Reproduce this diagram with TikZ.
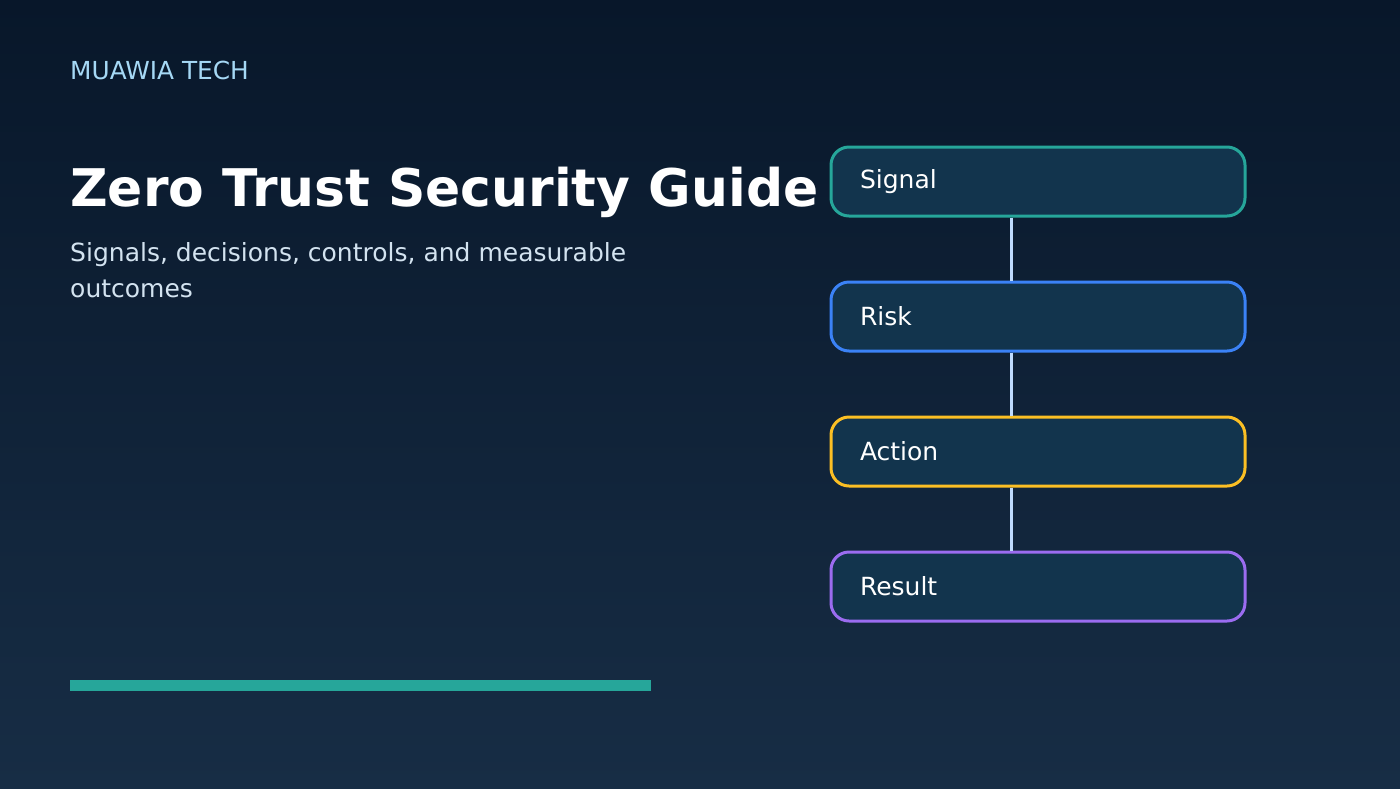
\documentclass[tikz,border=0pt]{standalone}
\usepackage{fontspec}
\setmainfont{DejaVu Sans}
\usepackage{xcolor}
\usepackage{tikz}
\usetikzlibrary{positioning}

\definecolor{bgtop}{HTML}{08172A}
\definecolor{bgbot}{HTML}{172D45}
\definecolor{boxfill}{HTML}{12344D}
\definecolor{teal}{HTML}{26A69A}
\definecolor{blueedge}{HTML}{3B82F6}
\definecolor{goldedge}{HTML}{FBBF24}
\definecolor{violetedge}{HTML}{9B6CF0}
\definecolor{linkcol}{HTML}{BFDBFE}
\definecolor{brandcol}{HTML}{A5D8F5}
\definecolor{subcol}{HTML}{D3E3F0}

\begin{document}
\begin{tikzpicture}[
    x=1pt, y=-1pt,
    stage/.style={fill=boxfill, rounded corners=18pt, line width=3pt, minimum width=414pt, minimum height=69pt, text width=356pt, inner xsep=29pt, align=left, text=white, font=\fontsize{25}{30}\selectfont},
    link/.style={line width=3pt, linkcol}
]
    % background
    \shade[top color=bgtop, bottom color=bgbot] (0,0) rectangle (1400,788);
    \useasboundingbox (0,0) rectangle (1400,788);

    % left column
    \node[anchor=base west, inner sep=0pt, text=brandcol, font=\fontsize{24.8}{30}\selectfont] (brand) at (70,79) {MUAWIA TECH};
    \node[anchor=base west, inner sep=0pt, text=white, font=\fontsize{51.9}{60}\selectfont\bfseries] (title) at (70,206) {Zero Trust Security Guide};
    \node[anchor=base west, inner sep=0pt, text=subcol, align=left, font=\fontsize{25}{35.5}\selectfont] (sub) at (70,297) {Signals, decisions, controls, and measurable\\outcomes};
    \fill[teal] (70,680) rectangle (651,691);

    % flow
    \node[stage, draw=teal]       (sig) at (1038,181.5) {Signal};
    \node[stage, draw=blueedge]   (risk) at (1038,316.5) {Risk};
    \node[stage, draw=goldedge]   (act) at (1038,451.5) {Action};
    \node[stage, draw=violetedge] (res) at (1038,586.5) {Result};

    \draw[link] ([xshift=-27pt]sig.south) -- ([xshift=-27pt]risk.north);
    \draw[link] ([xshift=-27pt]risk.south) -- ([xshift=-27pt]act.north);
    \draw[link] ([xshift=-27pt]act.south) -- ([xshift=-27pt]res.north);
\end{tikzpicture}
\end{document}
